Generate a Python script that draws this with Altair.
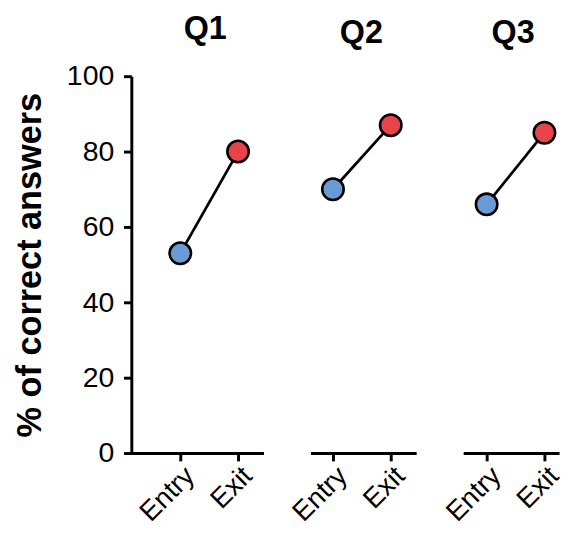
import altair as alt
import pandas as pd

questions = ["Q1", "Q2", "Q3"]
timepoints = ["Entry", "Exit"]
entry_vals = [53, 70, 66]
exit_vals = [80, 87, 85]
point_colors = ["#6b9bd6", "#e9434a"]
y_ticks = [0, 20, 40, 60, 80, 100]

rows = []
for q, e, x in zip(questions, entry_vals, exit_vals):
    rows.append({"question": q, "time": timepoints[0], "value": e})
    rows.append({"question": q, "time": timepoints[1], "value": x})
df = pd.DataFrame(rows)

FONT = "Liberation Sans"


def panel(q, width, pad, align, show_y, dx=0, offset=27):
    base = alt.Chart(df).transform_filter(alt.datum.question == q)
    x = alt.X(
        "time:N",
        sort=timepoints,
        scale=alt.Scale(type="point", padding=pad, align=align),
        axis=alt.Axis(title=None, labelAngle=-45, labelFontSize=28,
                      labelPadding=1, labelFont=FONT, labelColor="black"),
    )
    if show_y:
        yaxis = alt.Axis(values=y_ticks, title="% of correct answers",
                         titleFontSize=35, titleFont=FONT, titleFontWeight="bold",
                         titleColor="black", titlePadding=19,
                         labelFontSize=29, labelFont=FONT, labelColor="black",
                         labelPadding=10)
    else:
        yaxis = None
    y = alt.Y("value:Q", scale=alt.Scale(domain=[0, 100], nice=False), axis=yaxis)
    line = base.mark_line(color="black", strokeWidth=2.8).encode(x=x, y=y)
    pts = base.mark_point(filled=True, size=480, stroke="black", strokeWidth=2.6,
                          opacity=1).encode(
        x=x, y=y,
        fill=alt.Fill("time:N", scale=alt.Scale(domain=timepoints, range=point_colors),
                      legend=None),
    )
    return alt.layer(line, pts).properties(
        width=width, height=385,
        title=alt.TitleParams(q, fontSize=33, font=FONT, fontWeight="bold",
                              color="black", anchor="middle", frame="group",
                              offset=offset, dx=dx),
    )


p1 = panel("Q1", 135, 0.644, 0.658, True, dx=8, offset=17)
p2 = panel("Q2", 108, 0.415, 0.469, False, dx=-2)
p3 = panel("Q3", 98, 0.33, 0.615, False, dx=2)

chart = alt.hconcat(p1, p2, p3, spacing=48, bounds="flush").properties(
    padding={"left": 5, "top": 0, "right": 0, "bottom": 0}
).configure_view(stroke=None).configure_axis(
    domainColor="black", domainWidth=3, tickColor="black", tickWidth=3,
    tickSize=8, grid=False
)

chart.save("out.html", embed_options={"renderer": "svg", "actions": False})
